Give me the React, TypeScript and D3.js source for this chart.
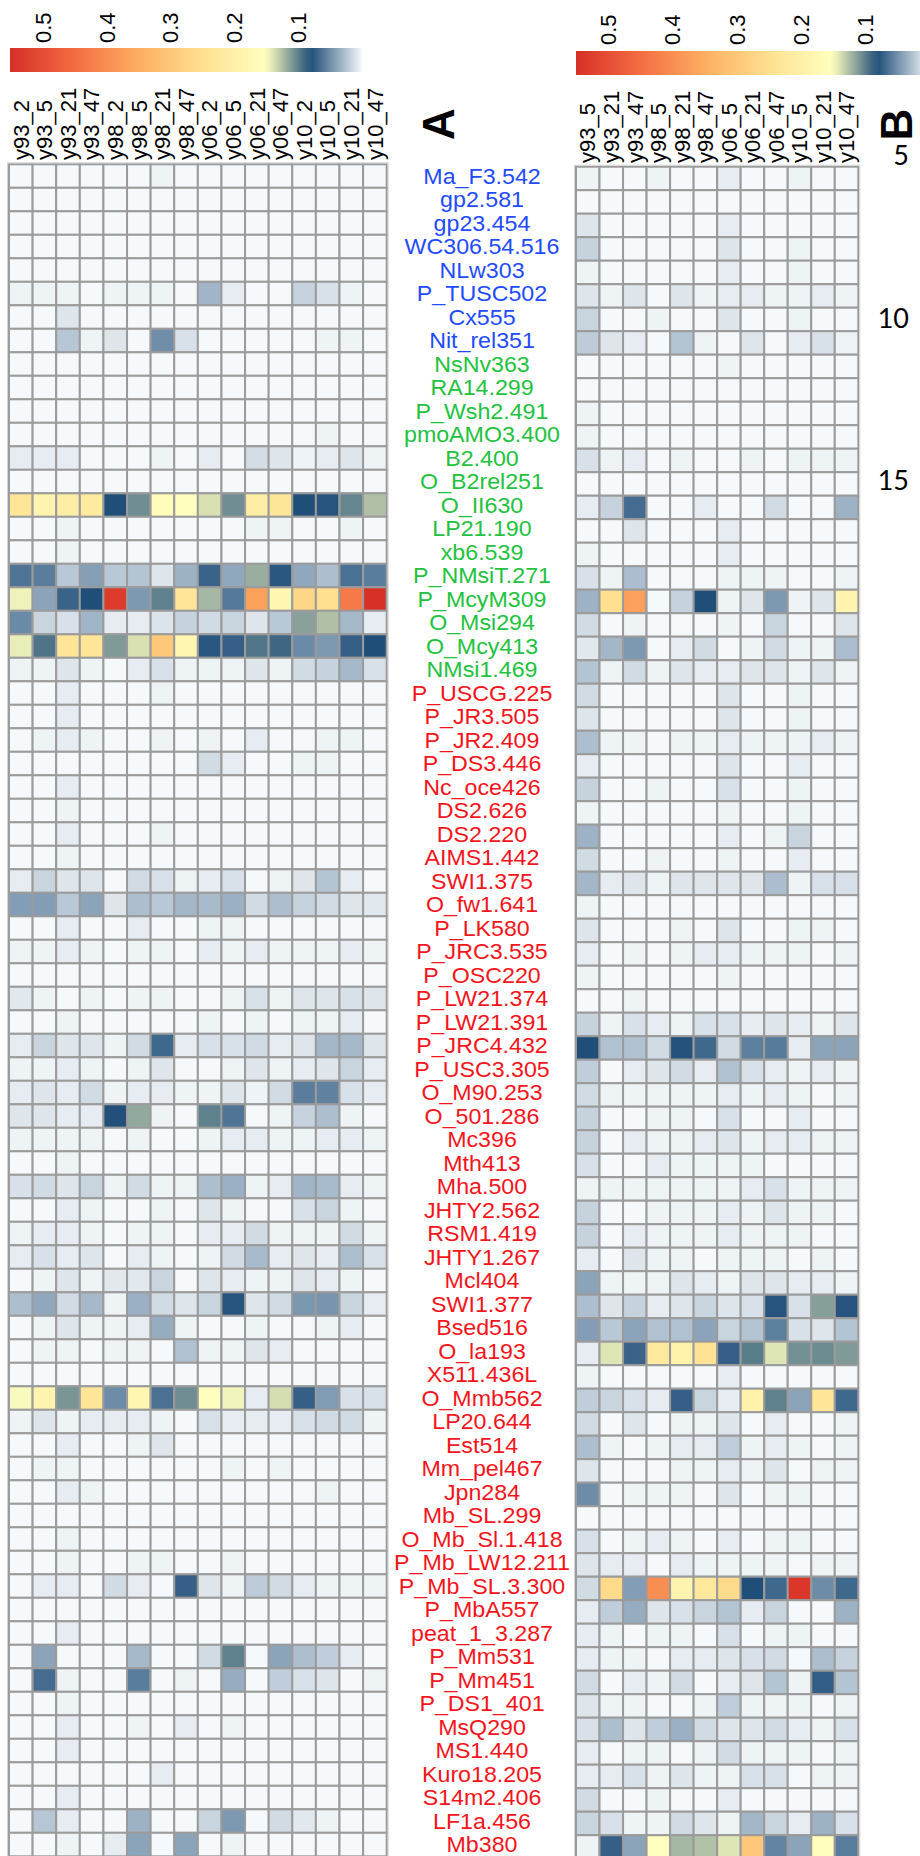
import React from 'react';
import * as d3 from 'd3';

// relative abundance per probe, stored x1000 (0.05 -> 50)
const colsA = ["y93_2", "y93_5", "y93_21", "y93_47", "y98_2", "y98_5", "y98_21", "y98_47",
  "y06_2", "y06_5", "y06_21", "y06_47", "y10_2", "y10_5", "y10_21", "y10_47"];
const colsB = ["y93_5", "y93_21", "y93_47", "y98_5", "y98_21", "y98_47",
  "y06_5", "y06_21", "y06_47", "y10_5", "y10_21", "y10_47"];

const probes = [
  "Ma_F3.542", "gp2.581", "gp23.454", "WC306.54.516", "NLw303", "P_TUSC502", "Cx555", "Nit_rel351",
  "NsNv363", "RA14.299", "P_Wsh2.491", "pmoAMO3.400", "B2.400", "O_B2rel251", "O_II630", "LP21.190",
  "xb6.539", "P_NMsiT.271", "P_McyM309", "O_Msi294", "O_Mcy413", "NMsi1.469",
  "P_USCG.225", "P_JR3.505", "P_JR2.409", "P_DS3.446", "Nc_oce426", "DS2.626", "DS2.220", "AIMS1.442",
  "SWI1.375", "O_fw1.641", "P_LK580", "P_JRC3.535", "P_OSC220", "P_LW21.374", "P_LW21.391", "P_JRC4.432",
  "P_USC3.305", "O_M90.253", "O_501.286", "Mc396", "Mth413", "Mha.500", "JHTY2.562", "RSM1.419",
  "JHTY1.267", "Mcl404", "SWI1.377", "Bsed516", "O_la193", "X511.436L", "O_Mmb562", "LP20.644",
  "Est514", "Mm_pel467", "Jpn284", "Mb_SL.299", "O_Mb_Sl.1.418", "P_Mb_LW12.211", "P_Mb_SL.3.300", "P_MbA557",
  "peat_1_3.287", "P_Mm531", "P_Mm451", "P_DS1_401", "MsQ290", "MS1.440", "Kuro18.205", "S14m2.406",
  "LF1a.456", "Mb380",
];
// probe group: 0 = blue, 1 = green, 2 = red
const probeGroup = probes.map((_, i) => (i < 8 ? 0 : i < 22 ? 1 : 2));
const groupColors = ["#1f4bff", "#22c23e", "#f5141b"];

const valuesA = [
  [0, 0, 0, 0, 0, 0, 3, 0, 0, 0, 0, 0, 0, 0, 0, 0],
  [0, 0, 0, 0, 0, 0, 0, 0, 0, 0, 0, 0, 0, 0, 0, 0],
  [0, 0, 0, 0, 0, 0, 0, 0, 0, 0, 0, 0, 0, 0, 0, 0],
  [0, 0, 0, 0, 0, 0, 0, 0, 0, 0, 0, 0, 0, 0, 0, 0],
  [0, 0, 0, 0, 0, 0, 0, 0, 0, 0, 0, 0, 0, 0, 0, 0],
  [3, 3, 3, 0, 3, 3, 3, 0, 32, 6, 0, 0, 18, 11, 3, 0],
  [0, 0, 9, 0, 0, 0, 0, 0, 0, 0, 0, 0, 0, 0, 0, 0],
  [0, 0, 24, 3, 9, 0, 50, 11, 0, 0, 0, 0, 0, 3, 3, 0],
  [0, 0, 0, 0, 0, 0, 0, 0, 0, 0, 0, 0, 0, 0, 0, 0],
  [0, 0, 0, 0, 0, 0, 0, 0, 0, 0, 0, 0, 0, 0, 0, 0],
  [0, 0, 0, 0, 0, 0, 0, 0, 0, 0, 0, 0, 0, 0, 0, 0],
  [0, 0, 0, 0, 0, 0, 0, 0, 0, 0, 0, 0, 0, 3, 0, 0],
  [6, 6, 6, 0, 0, 0, 3, 0, 6, 0, 13, 9, 3, 6, 9, 3],
  [0, 0, 0, 0, 0, 0, 0, 0, 0, 0, 0, 0, 0, 0, 0, 0],
  [235, 185, 205, 215, 80, 105, 160, 152, 138, 105, 208, 232, 80, 77, 102, 125],
  [0, 0, 3, 0, 0, 0, 0, 0, 0, 0, 3, 3, 0, 0, 3, 0],
  [0, 0, 3, 0, 0, 0, 0, 0, 0, 0, 0, 0, 0, 0, 0, 0],
  [62, 58, 23, 42, 23, 25, 9, 33, 70, 38, 118, 76, 38, 27, 64, 58],
  [145, 40, 70, 80, 530, 45, 100, 235, 122, 60, 370, 180, 270, 250, 430, 550],
  [52, 17, 11, 32, 6, 6, 10, 18, 14, 17, 9, 23, 113, 125, 30, 6],
  [143, 95, 235, 235, 110, 138, 300, 180, 76, 72, 96, 90, 52, 45, 72, 80],
  [3, 3, 9, 3, 0, 6, 11, 3, 3, 3, 9, 3, 14, 18, 30, 11],
  [0, 0, 6, 0, 0, 0, 3, 0, 0, 0, 0, 0, 0, 0, 0, 0],
  [0, 0, 6, 0, 0, 0, 0, 0, 0, 0, 0, 0, 0, 0, 0, 0],
  [0, 3, 6, 3, 0, 0, 3, 0, 3, 0, 6, 0, 0, 3, 3, 0],
  [0, 0, 0, 0, 0, 0, 0, 0, 14, 6, 0, 0, 3, 3, 0, 0],
  [0, 0, 6, 0, 0, 0, 0, 0, 0, 0, 0, 0, 0, 0, 0, 0],
  [0, 0, 3, 0, 0, 0, 0, 0, 0, 0, 0, 0, 0, 0, 0, 0],
  [0, 0, 6, 0, 0, 0, 3, 0, 0, 0, 0, 0, 0, 0, 0, 0],
  [0, 0, 3, 0, 0, 0, 0, 0, 0, 0, 0, 0, 0, 0, 0, 0],
  [6, 17, 9, 9, 0, 14, 11, 3, 6, 11, 0, 3, 9, 25, 6, 0],
  [43, 43, 23, 40, 9, 27, 23, 31, 29, 34, 14, 27, 18, 14, 9, 8],
  [0, 0, 6, 0, 0, 6, 0, 0, 3, 3, 0, 0, 0, 0, 0, 0],
  [3, 3, 6, 3, 0, 3, 3, 0, 6, 3, 6, 3, 3, 3, 6, 3],
  [0, 0, 0, 0, 0, 0, 0, 0, 0, 0, 0, 0, 0, 0, 0, 0],
  [8, 3, 0, 3, 0, 3, 3, 0, 0, 3, 11, 3, 9, 9, 11, 9],
  [0, 0, 3, 0, 0, 0, 0, 0, 3, 0, 3, 0, 3, 3, 6, 0],
  [6, 17, 9, 9, 3, 14, 68, 6, 11, 11, 14, 6, 9, 31, 30, 9],
  [3, 3, 6, 3, 0, 3, 9, 0, 0, 3, 9, 3, 6, 9, 17, 6],
  [6, 9, 6, 14, 3, 6, 6, 3, 3, 9, 3, 14, 58, 56, 11, 6],
  [9, 9, 6, 6, 79, 116, 3, 0, 100, 62, 0, 3, 18, 27, 3, 0],
  [3, 3, 3, 3, 0, 3, 0, 0, 3, 6, 6, 3, 3, 6, 6, 3],
  [0, 0, 3, 0, 0, 0, 0, 0, 0, 0, 0, 0, 0, 0, 0, 0],
  [11, 14, 9, 17, 3, 14, 3, 3, 27, 34, 3, 6, 32, 29, 6, 3],
  [0, 0, 6, 3, 0, 0, 3, 0, 9, 3, 0, 0, 11, 17, 3, 0],
  [3, 6, 6, 3, 0, 3, 3, 0, 6, 6, 14, 3, 3, 3, 14, 3],
  [6, 11, 6, 9, 0, 6, 3, 0, 3, 14, 29, 6, 9, 6, 27, 11],
  [0, 3, 9, 3, 8, 8, 17, 0, 9, 6, 3, 3, 9, 6, 3, 0],
  [27, 38, 14, 30, 3, 34, 14, 9, 17, 77, 9, 14, 46, 47, 17, 6],
  [0, 3, 9, 3, 3, 6, 36, 3, 0, 0, 3, 0, 0, 3, 6, 0],
  [0, 3, 3, 0, 3, 3, 0, 26, 3, 3, 9, 6, 0, 0, 0, 0],
  [0, 0, 0, 0, 0, 0, 0, 0, 0, 0, 0, 0, 0, 0, 0, 0],
  [148, 185, 108, 235, 51, 178, 64, 105, 152, 146, 6, 137, 72, 44, 11, 11],
  [3, 9, 3, 6, 6, 6, 3, 0, 11, 6, 6, 6, 11, 14, 14, 3],
  [0, 0, 6, 0, 0, 3, 9, 0, 0, 0, 0, 0, 0, 0, 0, 0],
  [0, 3, 3, 0, 0, 0, 0, 0, 0, 3, 0, 3, 0, 0, 0, 0],
  [0, 0, 6, 3, 0, 0, 0, 0, 0, 0, 0, 0, 0, 3, 0, 0],
  [0, 0, 0, 0, 0, 0, 0, 0, 0, 0, 0, 0, 0, 0, 0, 0],
  [0, 0, 3, 0, 0, 0, 0, 0, 0, 0, 0, 0, 0, 0, 0, 0],
  [0, 0, 3, 0, 0, 3, 3, 0, 0, 3, 0, 0, 0, 0, 0, 0],
  [0, 6, 6, 0, 14, 6, 0, 72, 9, 3, 21, 14, 6, 3, 3, 3],
  [0, 0, 0, 0, 0, 0, 0, 0, 0, 0, 0, 0, 0, 0, 0, 0],
  [0, 0, 6, 0, 0, 0, 0, 0, 0, 0, 0, 0, 0, 0, 0, 0],
  [0, 40, 0, 0, 0, 30, 0, 0, 14, 100, 0, 40, 27, 20, 6, 0],
  [0, 66, 3, 0, 0, 58, 0, 3, 0, 36, 0, 20, 11, 9, 0, 3],
  [0, 0, 3, 0, 0, 0, 0, 0, 0, 0, 0, 0, 0, 0, 0, 0],
  [0, 0, 6, 0, 0, 3, 0, 6, 0, 3, 0, 0, 0, 0, 0, 0],
  [0, 0, 6, 0, 0, 0, 0, 0, 0, 0, 0, 0, 0, 0, 0, 0],
  [0, 0, 0, 0, 0, 0, 6, 0, 0, 0, 0, 0, 0, 0, 0, 0],
  [0, 0, 6, 0, 0, 0, 0, 0, 0, 0, 0, 0, 0, 0, 0, 0],
  [0, 24, 6, 0, 0, 33, 0, 0, 17, 45, 0, 14, 8, 3, 0, 0],
  [0, 0, 3, 0, 6, 40, 0, 40, 0, 3, 0, 0, 0, 0, 0, 0],
];

const valuesB = [
  [3, 0, 0, 3, 0, 0, 6, 0, 0, 3, 0, 0],
  [0, 0, 0, 0, 0, 0, 0, 0, 0, 0, 0, 0],
  [9, 0, 0, 0, 0, 0, 6, 0, 0, 0, 0, 0],
  [18, 0, 0, 0, 0, 0, 9, 0, 0, 3, 0, 0],
  [3, 0, 0, 0, 0, 0, 6, 0, 0, 3, 0, 0],
  [9, 3, 9, 0, 9, 3, 6, 6, 3, 3, 6, 3],
  [17, 0, 0, 3, 0, 0, 9, 0, 0, 3, 0, 0],
  [21, 9, 6, 0, 25, 3, 0, 9, 0, 6, 11, 3],
  [0, 0, 0, 0, 0, 0, 3, 0, 0, 0, 0, 0],
  [0, 0, 0, 0, 0, 0, 0, 0, 0, 0, 0, 0],
  [3, 0, 0, 0, 0, 0, 0, 0, 0, 0, 0, 0],
  [3, 0, 0, 0, 0, 0, 0, 0, 0, 0, 0, 0],
  [11, 3, 6, 0, 3, 0, 0, 3, 0, 3, 3, 3],
  [0, 0, 0, 0, 0, 0, 0, 0, 0, 0, 0, 0],
  [6, 18, 66, 0, 0, 6, 0, 0, 14, 0, 0, 33],
  [0, 0, 9, 0, 0, 0, 6, 0, 0, 0, 0, 0],
  [3, 0, 0, 0, 0, 0, 6, 0, 0, 0, 0, 0],
  [11, 3, 28, 0, 0, 0, 3, 3, 3, 0, 0, 3],
  [33, 250, 370, 0, 18, 80, 3, 9, 45, 3, 9, 185],
  [14, 0, 3, 0, 0, 0, 3, 0, 17, 0, 0, 9],
  [8, 31, 45, 0, 6, 14, 0, 3, 14, 3, 3, 28],
  [25, 3, 14, 3, 9, 6, 6, 9, 9, 3, 9, 3],
  [14, 0, 0, 0, 0, 0, 9, 0, 0, 3, 0, 0],
  [9, 0, 0, 0, 0, 0, 9, 0, 0, 3, 0, 0],
  [27, 3, 3, 0, 3, 3, 6, 3, 3, 3, 6, 3],
  [6, 0, 0, 0, 0, 0, 9, 0, 0, 6, 0, 0],
  [18, 0, 0, 3, 0, 0, 11, 0, 0, 3, 0, 0],
  [3, 0, 0, 0, 0, 0, 3, 0, 0, 3, 0, 0],
  [33, 0, 0, 0, 0, 0, 6, 0, 3, 17, 0, 0],
  [14, 0, 0, 3, 0, 0, 3, 0, 0, 6, 0, 0],
  [31, 6, 9, 3, 9, 9, 9, 9, 28, 3, 11, 11],
  [3, 0, 0, 0, 0, 0, 0, 0, 0, 0, 0, 0],
  [9, 0, 0, 0, 3, 0, 9, 0, 0, 3, 3, 0],
  [6, 0, 3, 0, 3, 6, 6, 3, 3, 3, 0, 3],
  [3, 0, 0, 0, 0, 0, 3, 0, 0, 0, 0, 0],
  [0, 0, 3, 0, 0, 0, 0, 0, 0, 0, 0, 0],
  [18, 3, 11, 6, 3, 11, 11, 6, 9, 6, 3, 9],
  [80, 26, 26, 14, 78, 68, 14, 57, 59, 6, 40, 40],
  [20, 0, 6, 9, 14, 6, 26, 11, 6, 3, 6, 3],
  [14, 3, 3, 3, 3, 3, 6, 3, 6, 3, 0, 3],
  [18, 0, 0, 3, 3, 0, 11, 0, 0, 6, 0, 0],
  [18, 0, 6, 3, 3, 6, 9, 3, 6, 6, 3, 3],
  [11, 0, 0, 6, 3, 3, 3, 3, 0, 0, 0, 0],
  [3, 3, 3, 3, 3, 3, 3, 6, 11, 3, 3, 3],
  [18, 0, 0, 3, 3, 3, 6, 3, 9, 3, 3, 0],
  [18, 0, 6, 3, 3, 3, 6, 3, 3, 3, 0, 0],
  [6, 0, 9, 3, 3, 0, 3, 3, 3, 0, 3, 0],
  [40, 3, 3, 3, 9, 6, 3, 9, 9, 6, 6, 3],
  [27, 9, 18, 6, 9, 17, 9, 11, 77, 11, 112, 77],
  [43, 23, 40, 26, 26, 40, 17, 25, 57, 11, 9, 25],
  [6, 140, 70, 220, 190, 240, 72, 98, 140, 106, 104, 110],
  [3, 0, 0, 0, 0, 0, 6, 0, 0, 0, 0, 0],
  [20, 17, 11, 6, 72, 17, 6, 190, 100, 40, 235, 68],
  [14, 0, 9, 0, 3, 3, 9, 0, 6, 0, 0, 3],
  [27, 3, 0, 3, 6, 6, 20, 3, 6, 3, 0, 3],
  [9, 0, 0, 0, 3, 3, 6, 3, 9, 0, 3, 3],
  [51, 0, 3, 3, 3, 0, 9, 0, 3, 3, 0, 0],
  [0, 0, 0, 0, 0, 0, 0, 0, 0, 0, 0, 0],
  [11, 0, 3, 6, 3, 0, 6, 0, 3, 3, 0, 0],
  [9, 6, 6, 0, 6, 3, 3, 3, 3, 0, 3, 3],
  [14, 260, 43, 400, 185, 225, 260, 80, 68, 540, 51, 68],
  [6, 20, 36, 9, 11, 17, 25, 6, 17, 0, 0, 33],
  [6, 3, 0, 3, 3, 0, 11, 0, 3, 3, 0, 0],
  [6, 3, 3, 0, 6, 6, 9, 11, 14, 0, 27, 18],
  [14, 0, 6, 3, 14, 0, 6, 9, 25, 3, 73, 25],
  [9, 3, 3, 0, 0, 3, 20, 3, 3, 3, 0, 3],
  [11, 27, 9, 20, 34, 14, 9, 9, 14, 6, 3, 11],
  [6, 0, 3, 3, 0, 3, 14, 3, 3, 3, 0, 3],
  [6, 6, 11, 3, 9, 3, 3, 11, 11, 0, 3, 3],
  [14, 0, 0, 3, 0, 0, 6, 0, 0, 0, 0, 0],
  [17, 11, 3, 3, 14, 9, 3, 31, 17, 6, 33, 11],
  [3, 72, 40, 150, 122, 126, 140, 300, 55, 40, 152, 58],
];

const legendTicks = [0.5, 0.4, 0.3, 0.2, 0.1];
const sideMarks = ["5", "10", "15"];

const W = 920;
const H = 1856;
const ROW_H = 23.5;
const FONT = "'Liberation Sans', Arial, sans-serif";

const color = d3.scaleLinear<string>()
  .domain([0, 0.08, 0.15, 0.25, 0.35, 0.45, 0.55])
  .range(["#f6f9fb", "#1f4e79", "#ffffbf", "#fee090", "#fdae61", "#f46d43", "#d73027"])
  .interpolate(d3.interpolateRgb)
  .clamp(true);

function Heatmap({ cols, values, x0, x1, top, labelBottom }) {
  const x = d3.scaleBand<string>().domain(cols).range([x0, x1]);
  const y = d3.scaleBand<number>().domain(d3.range(probes.length)).range([top, top + probes.length * ROW_H]);
  return (
    <g>
      {values.map((row, i) =>
        row.map((v, j) => (
          <rect key={`${i}-${j}`} x={x(cols[j])} y={y(i)} width={x.bandwidth()} height={y.bandwidth()}
            fill={color(v / 1000)} stroke="#9b9b9b" strokeWidth={2} />
        ))
      )}
      <rect x={x0 - 1.5} y={top - 1.5} width={x1 - x0 + 3} height={probes.length * ROW_H + 3}
        fill="none" stroke="#d4d4d4" strokeWidth={1} />
      {cols.map(c => (
        <text key={c} transform={`translate(${x(c)! + x.bandwidth() / 2},${labelBottom}) rotate(-90)`}
          dy="0.35em" fontSize={22} fontFamily={FONT} fill="#000">{c}</text>
      ))}
    </g>
  );
}

function Legend({ id, x0, x1, y, h, maxVal, labelBottom }) {
  const sx = d3.scaleLinear().domain([maxVal, 0]).range([x0, x1]);
  const stops = d3.range(0, 1.0001, 0.02);
  return (
    <g>
      <defs>
        <linearGradient id={id} x1="0" x2="1" y1="0" y2="0">
          {stops.map(t => (
            <stop key={t} offset={t} stopColor={color(maxVal * (1 - t))} />
          ))}
        </linearGradient>
      </defs>
      <rect x={x0} y={y} width={x1 - x0} height={h} fill={`url(#${id})`} />
      {legendTicks.map(t => (
        <text key={t} transform={`translate(${sx(t)},${labelBottom}) rotate(-90)`} dy="0.35em"
          fontSize={22} fontFamily={FONT} fill="#000">{t.toFixed(1)}</text>
      ))}
    </g>
  );
}

export default function App() {
  const yLab = d3.scaleBand<number>().domain(d3.range(probes.length)).range([164.3, 164.3 + probes.length * ROW_H]);
  return (
    <svg width={W} height={H} style={{ position: 'absolute', left: 0, top: 0, background: '#fff' }}>
      <rect width={W} height={H} fill="#fff" />
      <Legend id="gradA" x0={10} x1={362} y={48} h={24} maxVal={0.552} labelBottom={43} />
      <Legend id="gradB" x0={576} x1={929} y={51} h={24} maxVal={0.551} labelBottom={45} />

      <Heatmap cols={colsA} values={valuesA} x0={9} x1={386.7} top={164.3} labelBottom={160} />
      <Heatmap cols={colsB} values={valuesB} x0={576} x1={858.3} top={166.7} labelBottom={163} />

      {probes.map((p, i) => (
        <text key={p} transform={`translate(482,${yLab(i)! + ROW_H / 2}) scale(1.08,1)`} dy="0.35em"
          textAnchor="middle" fontSize={21.5} fontFamily={FONT} fill={groupColors[probeGroup[i]]}>{p}</text>
      ))}

      <text transform="translate(439,124) rotate(-90)" dy="0.35em" textAnchor="middle"
        fontSize={44} fontWeight="bold" fontFamily={FONT}>A</text>
      <text transform="translate(897,124.5) rotate(-90)" dy="0.35em" textAnchor="middle"
        fontSize={44} fontWeight="bold" fontFamily={FONT}>B</text>

      {sideMarks.map((m, i) => (
        <text key={m} x={909} y={[165, 328, 490][i]} textAnchor="end" fontSize={27}
          fontFamily="Lato, 'Open Sans', sans-serif">{m}</text>
      ))}
    </svg>
  );
}
